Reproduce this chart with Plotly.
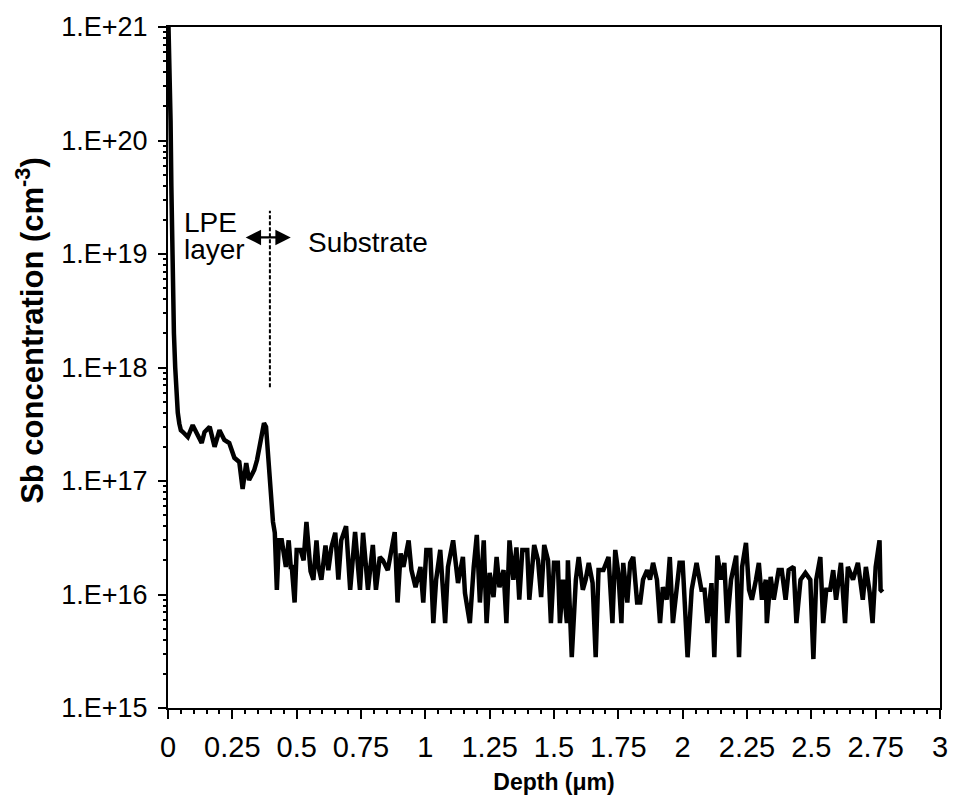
import plotly.graph_objects as go

# Sb SIMS depth profile (depth in um, concentration in cm^-3)
depth = [
    0.002, 0.006, 0.010, 0.013, 0.016, 0.019, 0.023, 0.028, 0.033, 0.038, 0.044, 0.050,
    0.058, 0.077, 0.096, 0.112, 0.131, 0.142, 0.162, 0.181, 0.200, 0.219, 0.238, 0.258,
    0.277, 0.290, 0.304, 0.315, 0.335, 0.346, 0.362, 0.373, 0.381, 0.392, 0.400, 0.408,
    0.415, 0.423, 0.431, 0.442, 0.458, 0.469, 0.477, 0.481, 0.492, 0.500, 0.515, 0.527,
    0.538, 0.554, 0.565, 0.577, 0.585, 0.596, 0.612, 0.623, 0.635, 0.650, 0.662, 0.673,
    0.692, 0.708, 0.727, 0.746, 0.758, 0.777, 0.796, 0.808, 0.823, 0.835, 0.854, 0.881,
    0.892, 0.904, 0.915, 0.935, 0.946, 0.962, 0.981, 0.992, 1.004, 1.019, 1.031, 1.042,
    1.058, 1.077, 1.088, 1.108, 1.127, 1.146, 1.154, 1.173, 1.188, 1.200, 1.212, 1.227,
    1.238, 1.250, 1.265, 1.277, 1.288, 1.304, 1.315, 1.327, 1.342, 1.354, 1.365, 1.377,
    1.396, 1.404, 1.423, 1.438, 1.450, 1.462, 1.477, 1.488, 1.500, 1.515, 1.523, 1.535,
    1.550, 1.554, 1.569, 1.585, 1.596, 1.612, 1.623, 1.635, 1.650, 1.662, 1.673, 1.692,
    1.712, 1.727, 1.738, 1.750, 1.762, 1.769, 1.785, 1.796, 1.808, 1.823, 1.835, 1.846,
    1.862, 1.873, 1.885, 1.900, 1.912, 1.923, 1.938, 1.950, 1.962, 1.977, 1.988, 2.000,
    2.019, 2.035, 2.054, 2.073, 2.085, 2.096, 2.112, 2.123, 2.135, 2.150, 2.162, 2.173,
    2.188, 2.208, 2.219, 2.231, 2.246, 2.258, 2.269, 2.285, 2.296, 2.308, 2.323, 2.327,
    2.342, 2.354, 2.373, 2.385, 2.400, 2.412, 2.431, 2.442, 2.458, 2.477, 2.496, 2.508,
    2.519, 2.535, 2.546, 2.558, 2.573, 2.585, 2.596, 2.615, 2.631, 2.642, 2.662, 2.681,
    2.700, 2.712, 2.727, 2.738, 2.750, 2.765, 2.769, 2.777,
]
sb_conc = [
    1.0e21, 5.0e20, 1.5e20, 4.0e19, 1.2e19, 5.0e18, 2.0e18, 1.0e18, 6.0e17, 4.0e17, 3.2e17, 2.8e17,
    2.7e17, 2.44e17, 3.1e17, 2.65e17, 2.16e17, 2.7e17, 3.0e17, 2.0e17, 2.8e17, 2.3e17, 2.16e17, 1.6e17,
    1.47e17, 8.5e16, 1.44e17, 1.02e17, 1.25e17, 1.53e17, 2.3e17, 3.24e17, 3.0e17, 1.33e17, 6.8e16, 4.35e16,
    3.5e16, 1.1e16, 3.0e16, 3.0e16, 1.75e16, 3.0e16, 1.75e16, 1.75e16, 8.5e15, 2.47e16, 2.47e16, 2.0e16,
    4.35e16, 1.6e16, 1.35e16, 3.0e16, 1.75e16, 1.35e16, 2.7e16, 1.64e16, 2.6e16, 3.5e16, 1.35e16, 3.0e16,
    4.0e16, 1.1e16, 3.55e16, 1.1e16, 3.5e16, 1.1e16, 2.73e16, 1.1e16, 2.14e16, 2.0e16, 1.64e16, 3.55e16,
    8.5e15, 2.3e16, 1.75e16, 3.0e16, 1.64e16, 1.16e16, 1.75e16, 8.5e15, 2.47e16, 2.47e16, 5.6e15, 1.35e16,
    2.47e16, 5.6e15, 1.75e16, 3.0e16, 1.26e16, 2.14e16, 1.03e16, 5.6e15, 1.75e16, 3.35e16, 8.5e15, 3.0e16,
    5.6e15, 1.55e16, 9.5e15, 2.14e16, 1.16e16, 1.64e16, 5.6e15, 3.0e16, 1.35e16, 2.6e16, 9.0e15, 2.47e16,
    2.47e16, 9.0e15, 2.73e16, 2.0e16, 9.5e15, 2.73e16, 2.0e16, 5.6e15, 1.9e16, 1.9e16, 5.6e15, 1.35e16,
    5.6e15, 2.0e16, 2.8e15, 1.35e16, 2.14e16, 1.1e16, 1.35e16, 1.9e16, 1.26e16, 2.8e15, 1.64e16, 1.64e16,
    2.14e16, 5.6e15, 2.47e16, 1.55e16, 5.6e15, 1.9e16, 8.5e15, 1.9e16, 2.14e16, 8.5e15, 8.5e15, 1.35e16,
    1.64e16, 1.35e16, 1.9e16, 1.35e16, 5.6e15, 1.16e16, 9.0e15, 2.14e16, 5.6e15, 1.16e16, 1.9e16, 1.9e16,
    2.8e15, 1.1e16, 1.9e16, 1.1e16, 1.1e16, 5.6e15, 1.26e16, 2.8e15, 2.2e16, 1.35e16, 1.9e16, 5.6e15,
    1.35e16, 2.2e16, 2.8e15, 1.75e16, 2.85e16, 1.1e16, 9.0e15, 1.35e16, 1.9e16, 9.0e15, 1.35e16, 5.6e15,
    1.43e16, 9.0e15, 1.64e16, 1.64e16, 9.0e15, 1.64e16, 1.75e16, 5.6e15, 1.35e16, 1.55e16, 1.35e16, 2.7e15,
    1.35e16, 2.14e16, 5.6e15, 1.1e16, 1.1e16, 1.64e16, 9.0e15, 1.9e16, 5.6e15, 1.75e16, 1.35e16, 1.9e16,
    9.0e15, 1.75e16, 1.03e16, 5.6e15, 1.75e16, 3.0e16, 1.1e16, 1.05e16,
]

x_tickvals = [0, 0.25, 0.5, 0.75, 1, 1.25, 1.5, 1.75, 2, 2.25, 2.5, 2.75, 3]
x_ticktext = ["0", "0.25", "0.5", "0.75", "1", "1.25", "1.5", "1.75", "2", "2.25", "2.5", "2.75", "3"]
x_minor_ticks = [round(i * 0.05, 2) for i in range(61)]
y_tickvals = [1e15, 1e16, 1e17, 1e18, 1e19, 1e20, 1e21]
y_ticktext = ["1.E+15", "1.E+16", "1.E+17", "1.E+18", "1.E+19", "1.E+20", "1.E+21"]
y_minor_ticks = [float(m) * 10.0 ** e for e in range(15, 21) for m in range(2, 10)]

# boundary between LPE layer and substrate
boundary_depth = [0.396, 0.396]
boundary_conc = [6.7e17, 2.4e19]

FONT = "Liberation Sans, Arial, sans-serif"

fig = go.Figure()
fig.add_trace(go.Scatter(x=depth, y=sb_conc, mode="lines",
                         line=dict(color="black", width=4.5), showlegend=False))
fig.add_trace(go.Scatter(x=boundary_depth, y=boundary_conc, mode="lines",
                         line=dict(color="black", width=2, dash="4px,2px"), showlegend=False))
# invisible trace that carries the minor-tick axes
fig.add_trace(go.Scatter(x=[depth[0]], y=[sb_conc[0]], xaxis="x2", yaxis="y2",
                         mode="markers", marker=dict(opacity=0), showlegend=False,
                         hoverinfo="skip"))

# double-headed arrow
fig.add_annotation(x=0.477, y=19.146, ax=0.296, ay=19.146, xref="x", yref="y",
                   axref="x", ayref="y", text="", showarrow=True,
                   arrowside="end+start", arrowhead=2, arrowsize=1.4, arrowwidth=2.2,
                   arrowcolor="black")
fig.add_annotation(x=0.055, y=19.28, xref="x", yref="y", text="LPE",
                   showarrow=False, xanchor="left",
                   font=dict(family=FONT, size=28, color="black"))
fig.add_annotation(x=0.055, y=19.04, xref="x", yref="y", text="layer",
                   showarrow=False, xanchor="left",
                   font=dict(family=FONT, size=28, color="black"))
fig.add_annotation(x=0.535, y=19.10, xref="x", yref="y", text="Substrate",
                   showarrow=False, xanchor="left",
                   font=dict(family=FONT, size=28, color="black"))

# y-axis title
fig.add_annotation(x=-0.179, y=0.555, xref="paper", yref="paper",
                   text="<b>Sb concentration (cm<sup>-3</sup>)</b>", textangle=-90,
                   showarrow=False, xanchor="center", yanchor="middle",
                   font=dict(family=FONT, size=31, color="black"))

fig.update_layout(
    width=957, height=804,
    margin=dict(l=168, r=9, t=27, b=96),
    paper_bgcolor="white", plot_bgcolor="white",
    font=dict(family=FONT, color="black"),
    xaxis=dict(
        range=[0, 3], tickmode="array", tickvals=x_tickvals, ticktext=x_ticktext,
        ticks="outside", ticklen=9, tickwidth=2, tickcolor="black",
        showline=True, linecolor="black", linewidth=2, mirror=True,
        showgrid=False, zeroline=False, ticklabelstandoff=3,
        tickfont=dict(family=FONT, size=29),
        title=dict(text="<b>Depth (μm)</b>", font=dict(family=FONT, size=23), standoff=12),
    ),
    yaxis=dict(
        type="log", range=[15, 21], tickmode="array", tickvals=y_tickvals, ticktext=y_ticktext,
        ticks="outside", ticklen=8, tickwidth=2, tickcolor="black",
        showline=True, linecolor="black", linewidth=2, mirror=True,
        showgrid=False, zeroline=False, ticklabelstandoff=5,
        tickfont=dict(family=FONT, size=27),
    ),
    xaxis2=dict(
        overlaying="x", anchor="y2", side="bottom", range=[0, 3],
        tickmode="array", tickvals=x_minor_ticks, showticklabels=False,
        ticks="outside", ticklen=5, tickwidth=1.5, tickcolor="black",
        showline=False, showgrid=False, zeroline=False,
    ),
    yaxis2=dict(
        overlaying="y", anchor="x2", side="left", type="log", range=[15, 21],
        tickmode="array", tickvals=y_minor_ticks, showticklabels=False,
        ticks="outside", ticklen=4, tickwidth=1.5, tickcolor="black",
        showline=False, showgrid=False, zeroline=False,
    ),
)

fig.write_html("out.html")
